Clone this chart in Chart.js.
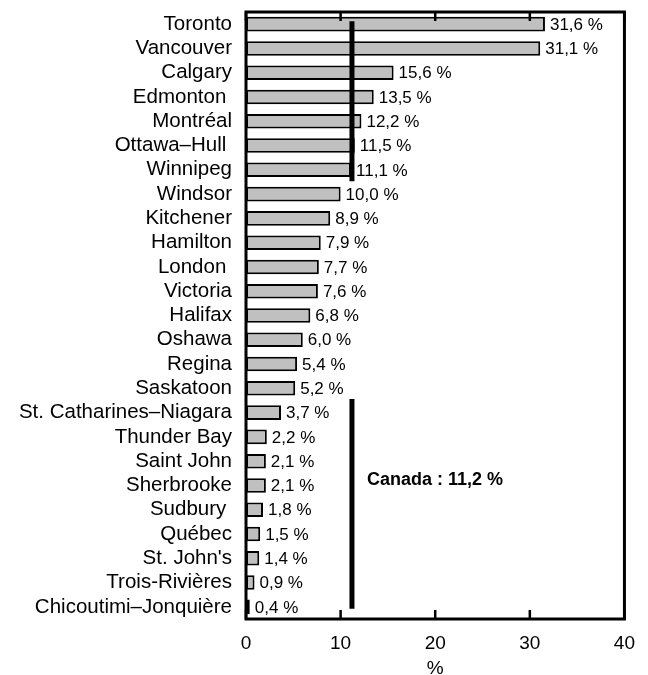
<!DOCTYPE html>
<html>
<head>
<meta charset="utf-8">
<script src="https://cdn.jsdelivr.net/npm/chart.js@4/dist/chart.umd.min.js"></script>
<style>
  html, body { margin: 0; padding: 0; background: #fff; }
</style>
</head>
<body>
<canvas id="cityChart" width="648" height="675"></canvas>
<script>
// Share of population per metropolitan area (%)
const cities = [
    'Toronto', 'Vancouver', 'Calgary', 'Edmonton ', 'Montréal', 'Ottawa–Hull ', 'Winnipeg',
    'Windsor', 'Kitchener', 'Hamilton', 'London ', 'Victoria', 'Halifax', 'Oshawa', 'Regina',
    'Saskatoon', 'St. Catharines–Niagara', 'Thunder Bay', 'Saint John', 'Sherbrooke',
    'Sudbury ', 'Québec', "St. John's", 'Trois-Rivières', 'Chicoutimi–Jonquière'
];
const shares = [
    31.6, 31.1, 15.6, 13.5, 12.2, 11.5, 11.1,
    10.0, 8.9, 7.9, 7.7, 7.6, 6.8, 6.0, 5.4,
    5.2, 3.7, 2.2, 2.1, 2.1,
    1.8, 1.5, 1.4, 0.9, 0.4
];
const canadaShare = 11.2;
const xTicks = [0, 10, 20, 30, 40];

const FONT = '"Liberation Sans", Arial, sans-serif';

// 31.6 -> "31,6 %"
function fmt(v) {
    return v.toFixed(1).replace('.', ',') + ' %';
}

// Frame, inward ticks, value labels and the Canada line
const extrasPlugin = {
    id: 'extras',
    afterDatasetsDraw(chart) {
        const ctx = chart.ctx;
        const a = chart.chartArea;
        const x = chart.scales.x;
        const y = chart.scales.y;
        ctx.save();

        // value labels next to each bar
        ctx.font = '17px ' + FONT;
        ctx.fillStyle = '#000';
        ctx.textAlign = 'left';
        ctx.textBaseline = 'middle';
        chart.getDatasetMeta(0).data.forEach(function (bar, i) {
            ctx.fillText(fmt(shares[i]), bar.x + 5, bar.y + 1);
        });

        // Canada average line, broken where the labels sit
        const cx = x.getPixelForValue(canadaShare);
        const step = y.getPixelForValue(1) - y.getPixelForValue(0);
        ctx.strokeStyle = '#000';
        ctx.lineWidth = 5;
        ctx.beginPath();
        ctx.moveTo(cx, y.getPixelForValue(0) - 3);
        ctx.lineTo(cx, y.getPixelForValue(6) + step * 0.47);
        ctx.moveTo(cx, y.getPixelForValue(16) - step * 0.56);
        ctx.lineTo(cx, y.getPixelForValue(24) + 2);
        ctx.stroke();

        ctx.font = 'bold 18px ' + FONT;
        ctx.fillText('Canada : ' + fmt(canadaShare), cx + 15, y.getPixelForValue(19) - 5);

        // plot frame
        ctx.lineWidth = 3;
        ctx.strokeRect(a.left, a.top, a.right - a.left, a.bottom - a.top);

        // tick marks pointing inward, top and bottom
        ctx.lineWidth = 2.5;
        ctx.beginPath();
        xTicks.forEach(function (v) {
            const px = x.getPixelForValue(v);
            ctx.moveTo(px, a.top);
            ctx.lineTo(px, a.top + 9);
            ctx.moveTo(px, a.bottom);
            ctx.lineTo(px, a.bottom - 9);
        });
        ctx.stroke();

        ctx.restore();
    }
};

const ctx = document.getElementById('cityChart').getContext('2d');
const cityChart = new Chart(ctx, {
    type: 'bar',
    data: {
        labels: cities,
        datasets: [{
            data: shares,
            backgroundColor: '#c0c0c0',
            borderColor: '#000',
            borderWidth: 2,
            borderSkipped: false,
            categoryPercentage: 1,
            barPercentage: 0.6
        }]
    },
    options: {
        indexAxis: 'y',
        responsive: false,
        animation: false,
        devicePixelRatio: 1,
        layout: {
            padding: { top: 12, right: 21, left: 0, bottom: 0 }
        },
        plugins: {
            legend: { display: false },
            tooltip: { enabled: false }
        },
        scales: {
            x: {
                min: 0,
                max: 40,
                ticks: {
                    stepSize: 10,
                    color: '#000',
                    padding: 13,
                    font: { family: FONT, size: 19 }
                },
                grid: { display: false, drawTicks: false },
                border: { display: false },
                title: {
                    display: true,
                    text: '%',
                    color: '#000',
                    padding: { top: 0, bottom: -5 },
                    font: { family: FONT, size: 19 }
                },
                afterFit: function (scale) { scale.height = 56; }
            },
            y: {
                ticks: {
                    color: '#000',
                    padding: 14,
                    autoSkip: false,
                    font: { family: FONT, size: 20.5 }
                },
                grid: { display: false, drawTicks: false },
                border: { display: false },
                afterFit: function (scale) {
                    scale.width = 246;
                    scale.paddingTop = 0;
                    scale.paddingBottom = 0;
                }
            }
        }
    },
    plugins: [extrasPlugin]
});
</script>
</body>
</html>
